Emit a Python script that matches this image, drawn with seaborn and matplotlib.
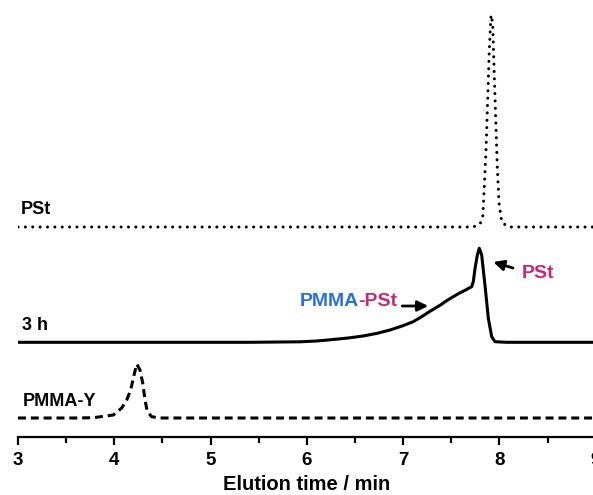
import matplotlib
matplotlib.use("Agg")
import matplotlib.pyplot as plt
import seaborn as sns
import pandas as pd

# ---------------- data ----------------
# PSt reference (dotted)
pst_time = [3.0, 7.70, 7.763, 7.798, 7.826, 7.842, 7.860, 7.877, 7.894, 7.912,
            7.929, 7.943, 7.960, 7.977, 7.995, 8.023, 8.075, 8.12, 9.0]
pst_signal = [0, 0, 1, 3, 10, 40, 77, 127, 177, 212,
              204, 160, 110, 60, 24, 5, 1, 0, 0]
pst_offset = 210

# 3 h sample (solid)
h3_time = [3.0, 5.409, 5.928, 6.10, 6.240, 6.42, 6.583, 6.73, 6.863, 6.98,
           7.102, 7.19, 7.278, 7.382, 7.45, 7.517, 7.58, 7.642, 7.711, 7.728,
           7.746, 7.770, 7.790, 7.815, 7.849, 7.884, 7.919, 7.953, 8.075, 9.0]
h3_signal = [0, 0, 0.5, 1.3, 2.5, 4.2, 6.3, 9.0, 12.3, 16.0,
             20.5, 25.5, 31, 37, 41.5, 45.5, 49, 52, 55.6, 60.6,
             74, 87.3, 94, 87.3, 57.3, 24, 5.6, 0.6, 0, 0]
h3_offset = 94.7

# PMMA-Y macroinitiator (dashed)
pmma_time = [3.0, 3.6, 3.782, 3.990, 4.077, 4.129, 4.170, 4.205, 4.233, 4.267,
             4.295, 4.319, 4.343, 4.388, 4.475, 9.0]
pmma_signal = [0, 0, 0.3, 3, 10, 18, 28, 43, 54, 48,
               35, 18, 6.3, 1.3, 0, 0]
pmma_offset = 19

major_ticks = [3, 4, 5, 6, 7, 8, 9]
minor_ticks = [3.5, 4.5, 5.5, 6.5, 7.5, 8.5]

# ---------------- style ----------------
sns.set_theme(style="white")
plt.rcParams["font.family"] = ["Liberation Sans", "DejaVu Sans"]
plt.rcParams["font.weight"] = "bold"
plt.rcParams["text.color"] = "black"
plt.rcParams["axes.labelcolor"] = "black"
plt.rcParams["xtick.color"] = "black"

fig = plt.figure(figsize=(5.93, 4.95), dpi=100)
ax = fig.add_axes([18 / 593, 58 / 495, 577.8 / 593, 437 / 495])
ax.set_facecolor("white")

def trace(t, s, off):
    return pd.DataFrame({"time": t, "y": [v + off for v in s]})

d_pst = trace(pst_time, pst_signal, pst_offset)
d_h3 = trace(h3_time, h3_signal, h3_offset)
d_pm = trace(pmma_time, pmma_signal, pmma_offset)

sns.lineplot(data=d_pst, x="time", y="y", ax=ax, color="black", lw=2.2,
             estimator=None, sort=False)
sns.lineplot(data=d_h3, x="time", y="y", ax=ax, color="black", lw=2.2,
             estimator=None, sort=False)
sns.lineplot(data=d_pm, x="time", y="y", ax=ax, color="black", lw=2.2,
             estimator=None, sort=False)

lines = ax.get_lines()
lines[0].set_dashes((0.01, 2.4))
lines[0].set_dash_capstyle("round")
lines[1].set_solid_joinstyle("round")
lines[2].set_dashes((2.6, 1.6))
lines[2].set_dash_capstyle("butt")

ax.set_xlim(3, 9)
ax.set_ylim(0, 437)

# axes styling
for side in ["top", "left", "right"]:
    ax.spines[side].set_visible(False)
ax.spines["bottom"].set_linewidth(1.6)
ax.spines["bottom"].set_color("black")
ax.set_yticks([])
ax.set_xticks(major_ticks)
ax.set_xticks(minor_ticks, minor=True)
ax.set_xticklabels([str(t) for t in major_ticks])
ax.tick_params(axis="x", which="major", direction="out", length=6, width=1.6,
               color="black", labelcolor="black", labelsize=13.5, pad=5,
               bottom=True)
ax.tick_params(axis="x", which="minor", direction="out", length=4, width=1.6,
               color="black", bottom=True)
for lab in ax.get_xticklabels():
    lab.set_fontweight("bold")
ax.set_xlabel("Elution time / min", fontsize=14.5, fontweight="bold",
              color="black", labelpad=4)
ax.set_ylabel("")
ax.grid(False)

# trace labels
ax.text(3.03, 223, "PSt", fontsize=13, fontweight="bold", va="baseline",
        ha="left", color="black")
ax.text(3.04, 107, "3 h", fontsize=13, fontweight="bold", va="baseline",
        ha="left", color="black")
ax.text(3.05, 31, "PMMA-Y", fontsize=13, fontweight="bold", va="baseline",
        ha="left", color="black")

blue = "#2a6ee0"
magenta = "#c42a70"
t1 = ax.text(5.93, 127, "PMMA", fontsize=14, fontweight="bold", color=blue,
             va="bottom", ha="left")
ax.annotate("-PSt", xy=(1, 0), xycoords=t1, xytext=(-0.5, 0),
            textcoords="offset points", fontsize=14, fontweight="bold",
            color=magenta, va="bottom", ha="left")
ax.text(8.234, 159, "PSt", fontsize=14, fontweight="bold", color=magenta,
        va="baseline", ha="left")

arrow = dict(arrowstyle="-|>,head_length=0.45,head_width=0.22", lw=2,
             color="black", shrinkA=0, shrinkB=0, mutation_scale=14)
ax.annotate("", xy=(7.26, 131), xytext=(6.99, 131), arrowprops=arrow)
ax.annotate("", xy=(7.935, 175), xytext=(8.14, 169), arrowprops=arrow)

fig.savefig("out.png", dpi=100, facecolor="white")
